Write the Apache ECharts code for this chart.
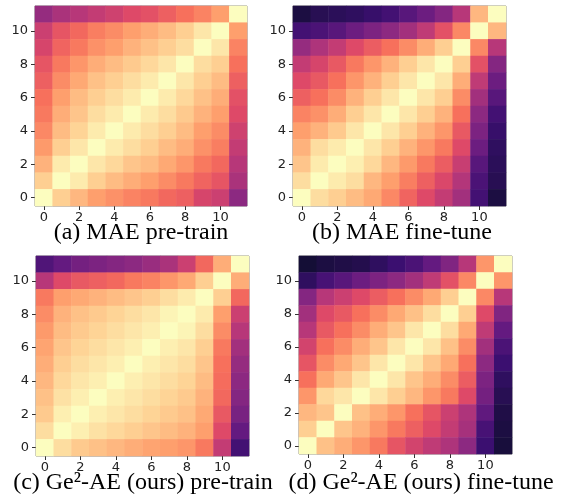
<!DOCTYPE html>
<html>
<head>
<meta charset="utf-8">
<script src="https://cdn.jsdelivr.net/npm/echarts@6/dist/echarts.min.js"></script>
<style>
  html, body { margin: 0; padding: 0; background: #fff; }
  #chart { width: 564px; height: 500px; }
</style>
</head>
<body>
<div id="chart"></div>
<script>
// layer index 0..11 on both axes
const layers = ['0', '1', '2', '3', '4', '5', '6', '7', '8', '9', '10', '11'];

// similarity values (magma position), rows written top (11) to bottom (0)
const maePretrain = [
  [0.42, 0.47, 0.50, 0.53, 0.56, 0.60, 0.62, 0.66, 0.70, 0.74, 0.80, 1.00],
  [0.55, 0.63, 0.68, 0.73, 0.76, 0.80, 0.83, 0.86, 0.90, 0.95, 1.00, 0.80],
  [0.58, 0.67, 0.72, 0.77, 0.80, 0.84, 0.87, 0.90, 0.93, 1.00, 0.95, 0.74],
  [0.63, 0.72, 0.78, 0.83, 0.86, 0.89, 0.92, 0.95, 1.00, 0.93, 0.90, 0.70],
  [0.66, 0.76, 0.82, 0.87, 0.90, 0.93, 0.96, 1.00, 0.95, 0.90, 0.86, 0.66],
  [0.70, 0.80, 0.86, 0.90, 0.93, 0.96, 1.00, 0.96, 0.92, 0.87, 0.83, 0.62],
  [0.72, 0.83, 0.88, 0.93, 0.96, 1.00, 0.96, 0.93, 0.89, 0.84, 0.80, 0.60],
  [0.75, 0.86, 0.91, 0.96, 1.00, 0.96, 0.93, 0.90, 0.86, 0.80, 0.76, 0.56],
  [0.79, 0.90, 0.95, 1.00, 0.96, 0.93, 0.90, 0.86, 0.83, 0.77, 0.73, 0.53],
  [0.84, 0.96, 1.00, 0.95, 0.92, 0.88, 0.86, 0.82, 0.78, 0.72, 0.68, 0.50],
  [0.90, 1.00, 0.96, 0.90, 0.86, 0.83, 0.80, 0.76, 0.72, 0.67, 0.63, 0.47],
  [1.00, 0.90, 0.85, 0.80, 0.77, 0.74, 0.72, 0.68, 0.66, 0.58, 0.55, 0.40]
];

const maeFinetune = [
  [0.12, 0.15, 0.16, 0.17, 0.19, 0.22, 0.27, 0.32, 0.38, 0.50, 0.85, 1.00],
  [0.22, 0.24, 0.27, 0.32, 0.36, 0.40, 0.45, 0.52, 0.62, 0.75, 1.00, 0.85],
  [0.42, 0.48, 0.53, 0.60, 0.65, 0.70, 0.76, 0.83, 0.90, 1.00, 0.75, 0.50],
  [0.53, 0.58, 0.64, 0.72, 0.78, 0.84, 0.90, 0.95, 1.00, 0.90, 0.62, 0.38],
  [0.60, 0.64, 0.70, 0.78, 0.84, 0.90, 0.95, 1.00, 0.95, 0.83, 0.52, 0.32],
  [0.66, 0.70, 0.76, 0.84, 0.90, 0.95, 1.00, 0.95, 0.90, 0.76, 0.45, 0.27],
  [0.74, 0.77, 0.83, 0.90, 0.95, 1.00, 0.95, 0.90, 0.84, 0.70, 0.40, 0.22],
  [0.80, 0.84, 0.89, 0.95, 1.00, 0.95, 0.90, 0.84, 0.78, 0.64, 0.36, 0.19],
  [0.84, 0.93, 0.96, 1.00, 0.95, 0.90, 0.84, 0.78, 0.72, 0.60, 0.32, 0.17],
  [0.88, 0.96, 1.00, 0.97, 0.92, 0.85, 0.79, 0.72, 0.65, 0.54, 0.27, 0.16],
  [0.93, 1.00, 0.96, 0.93, 0.85, 0.80, 0.73, 0.66, 0.59, 0.49, 0.24, 0.15],
  [1.00, 0.93, 0.90, 0.86, 0.82, 0.75, 0.67, 0.60, 0.53, 0.45, 0.22, 0.12]
];

const gePretrain = [
  [0.25, 0.30, 0.34, 0.36, 0.38, 0.40, 0.43, 0.47, 0.55, 0.68, 0.83, 1.00],
  [0.50, 0.60, 0.64, 0.66, 0.68, 0.72, 0.74, 0.78, 0.82, 0.90, 1.00, 0.83],
  [0.72, 0.80, 0.82, 0.84, 0.86, 0.88, 0.90, 0.93, 0.96, 1.00, 0.90, 0.68],
  [0.76, 0.84, 0.87, 0.89, 0.91, 0.93, 0.95, 0.98, 1.00, 0.96, 0.80, 0.55],
  [0.79, 0.86, 0.89, 0.91, 0.93, 0.95, 0.97, 1.00, 0.98, 0.93, 0.76, 0.50],
  [0.81, 0.88, 0.91, 0.93, 0.95, 0.97, 1.00, 0.97, 0.95, 0.90, 0.72, 0.45],
  [0.83, 0.90, 0.93, 0.95, 0.97, 1.00, 0.97, 0.95, 0.93, 0.88, 0.70, 0.42],
  [0.85, 0.92, 0.95, 0.97, 1.00, 0.97, 0.95, 0.93, 0.91, 0.86, 0.69, 0.40],
  [0.87, 0.94, 0.97, 1.00, 0.97, 0.95, 0.93, 0.91, 0.89, 0.84, 0.68, 0.38],
  [0.89, 0.97, 1.00, 0.97, 0.95, 0.93, 0.91, 0.89, 0.87, 0.82, 0.64, 0.35],
  [0.93, 1.00, 0.97, 0.94, 0.92, 0.90, 0.88, 0.86, 0.84, 0.80, 0.60, 0.30],
  [1.00, 0.93, 0.89, 0.87, 0.85, 0.83, 0.81, 0.80, 0.78, 0.72, 0.53, 0.22]
];

const geFinetune = [
  [0.10, 0.12, 0.13, 0.14, 0.17, 0.20, 0.24, 0.30, 0.37, 0.50, 0.78, 1.00],
  [0.17, 0.23, 0.27, 0.32, 0.36, 0.40, 0.45, 0.52, 0.62, 0.75, 1.00, 0.78],
  [0.38, 0.50, 0.55, 0.60, 0.65, 0.70, 0.76, 0.82, 0.90, 1.00, 0.75, 0.50],
  [0.45, 0.60, 0.64, 0.70, 0.76, 0.82, 0.87, 0.93, 1.00, 0.90, 0.60, 0.37],
  [0.50, 0.64, 0.70, 0.76, 0.83, 0.88, 0.95, 1.00, 0.93, 0.82, 0.52, 0.30],
  [0.57, 0.70, 0.76, 0.83, 0.88, 0.95, 1.00, 0.95, 0.87, 0.76, 0.45, 0.24],
  [0.63, 0.76, 0.82, 0.88, 0.95, 1.00, 0.95, 0.88, 0.82, 0.70, 0.40, 0.20],
  [0.70, 0.82, 0.88, 0.95, 1.00, 0.95, 0.88, 0.83, 0.76, 0.65, 0.36, 0.17],
  [0.78, 0.92, 0.95, 1.00, 0.95, 0.90, 0.85, 0.78, 0.72, 0.60, 0.34, 0.15],
  [0.85, 0.88, 1.00, 0.87, 0.83, 0.78, 0.70, 0.63, 0.55, 0.48, 0.29, 0.13],
  [0.90, 1.00, 0.88, 0.84, 0.78, 0.72, 0.66, 0.60, 0.53, 0.46, 0.23, 0.12],
  [1.00, 0.87, 0.83, 0.78, 0.72, 0.63, 0.57, 0.52, 0.48, 0.40, 0.20, 0.11]
];

const captions = [
  '(a) MAE pre-train',
  '(b) MAE fine-tune',
  '(c) Ge\u00b2-AE (ours) pre-train',
  '(d) Ge\u00b2-AE (ours) fine-tune'
];

const magma = ['#000004', '#140e36', '#3b0f70', '#641a80', '#8c2981', '#b73779',
  '#de4968', '#f7705c', '#fe9f6d', '#fecf92', '#fcfdbf'];

// turn top-down rows into [x, y, value] triples
function toCells(rows) {
  const out = [];
  rows.forEach((row, r) => {
    const y = rows.length - 1 - r;
    row.forEach((v, x) => out.push([x, y, v]));
  });
  return out;
}

const panels = [
  { data: maePretrain, grid: { left: 35, top: 6, width: 212, height: 200 }, cap: [141, 221] },
  { data: maeFinetune, grid: { left: 293, top: 6, width: 213, height: 200 }, cap: [402, 221] },
  { data: gePretrain, grid: { left: 36, top: 256, width: 213, height: 200 }, cap: [143, 471] },
  { data: geFinetune, grid: { left: 299, top: 256, width: 213, height: 198 }, cap: [421, 471] }
];

const labelStyle = { fontFamily: 'DejaVu Sans', fontSize: 13, color: '#222' };

const chart = echarts.init(document.getElementById('chart'));
chart.setOption({
  backgroundColor: '#fff',
  animation: false,
  grid: panels.map(p => Object.assign({
    show: true, borderColor: '#808080', borderWidth: 1, backgroundColor: 'transparent'
  }, p.grid)),
  xAxis: panels.map((p, i) => ({
    type: 'category',
    gridIndex: i,
    data: layers,
    axisLine: { show: false },
    axisTick: { show: true, interval: 1, alignWithLabel: true, length: 4, lineStyle: { color: '#333' } },
    axisLabel: Object.assign({ interval: 1, margin: 5 }, labelStyle),
    splitLine: { show: false }
  })),
  yAxis: panels.map((p, i) => ({
    type: 'category',
    gridIndex: i,
    data: layers,
    axisLine: { show: false },
    axisTick: { show: true, interval: 1, alignWithLabel: true, length: 4, lineStyle: { color: '#333' } },
    axisLabel: Object.assign({ interval: 1, margin: 7 }, labelStyle),
    splitLine: { show: false }
  })),
  visualMap: {
    type: 'continuous',
    show: false,
    min: 0,
    max: 1,
    seriesIndex: [0, 1, 2, 3],
    inRange: { color: magma }
  },
  series: panels.map((p, i) => ({
    type: 'heatmap',
    xAxisIndex: i,
    yAxisIndex: i,
    data: toCells(p.data),
    emphasis: { disabled: true },
    itemStyle: { borderWidth: 0 }
  })),
  graphic: panels.map((p, i) => ({
    type: 'text',
    x: p.cap[0],
    y: p.cap[1],
    style: {
      text: captions[i],
      font: '24px "Liberation Serif"',
      fill: '#000',
      textAlign: 'center',
      textVerticalAlign: 'top'
    }
  }))
});
</script>
</body>
</html>
